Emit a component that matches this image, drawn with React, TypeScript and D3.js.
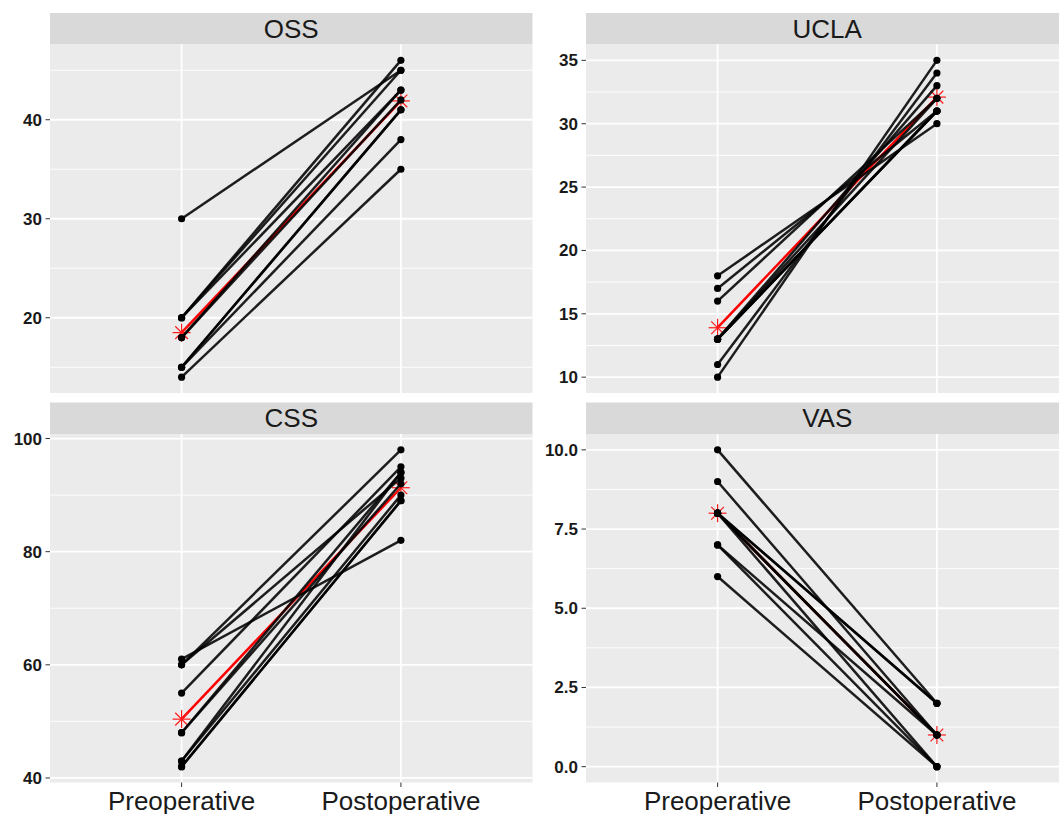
import React from 'react';
import * as d3 from 'd3';

// ---- data ----
const groups = ['Preoperative', 'Postoperative'];
const panelNames = ['OSS', 'UCLA', 'CSS', 'VAS'];

const ossPre = [30, 20, 20, 20, 18, 18, 15, 15, 15, 14];
const ossPost = [45, 46, 45, 43, 43, 42, 41, 41, 38, 35];
const uclaPre = [18, 17, 16, 13, 13, 13, 13, 13, 11, 10];
const uclaPost = [30, 31, 32, 33, 31, 32, 31, 31, 34, 35];
const cssPre = [61, 60, 55, 48, 48, 43, 43, 42, 42, 60];
const cssPost = [82, 98, 95, 94, 92, 94, 90, 89, 89, 93];
const vasPre = [10, 9, 8, 8, 8, 8, 7, 7, 6, 8];
const vasPost = [2, 1, 2, 1, 0, 1, 1, 0, 0, 2];

const meanPre = [18.5, 13.9, 50.4, 8.0];
const meanPost = [41.9, 32.1, 91.3, 1.0];

const ossTicks = [20, 30, 40];
const uclaTicks = [10, 15, 20, 25, 30, 35];
const cssTicks = [40, 60, 80, 100];
const vasTicks = [0, 2.5, 5, 7.5, 10];
const vasTickLabels = ['0.0', '2.5', '5.0', '7.5', '10.0'];

const preData = [ossPre, uclaPre, cssPre, vasPre];
const postData = [ossPost, uclaPost, cssPost, vasPost];
const tickData = [ossTicks, uclaTicks, cssTicks, vasTicks];
const tickLabelData = [ossTicks.map(String), uclaTicks.map(String), cssTicks.map(String), vasTickLabels];

// ---- layout ----
const W = 1059;
const H = 814;
const colX = [50, 586];
const panelW = 482.5;
const stripTop = [13, 402.5];
const stripH = 31.5;
const plotTop = [44.5, 434];
const plotH = 348.5;

function Star({ x, y, r }: { x: number; y: number; r: number }) {
  const d = r * Math.SQRT1_2;
  return (
    <g stroke="#ff1a1a" strokeWidth={1.2}>
      <line x1={x - r} y1={y} x2={x + r} y2={y} />
      <line x1={x} y1={y - r} x2={x} y2={y + r} />
      <line x1={x - d} y1={y - d} x2={x + d} y2={y + d} />
      <line x1={x - d} y1={y + d} x2={x + d} y2={y - d} />
    </g>
  );
}

function Panel({ idx }: { idx: number }) {
  const col = idx % 2;
  const row = Math.floor(idx / 2);
  const x0 = colX[col];
  const top = plotTop[row];
  const bottom = top + plotH;
  const pre = preData[idx];
  const post = postData[idx];
  const all = pre.concat(post);
  const mn = d3.min(all) as number;
  const mx = d3.max(all) as number;
  const pad = (mx - mn) * 0.05;
  const y = d3.scaleLinear().domain([mn - pad, mx + pad]).range([bottom, top]);
  const x = d3.scalePoint<string>().domain(groups).range([x0, x0 + panelW]).padding(0.6);
  const ticks = tickData[idx];
  const step = ticks[1] - ticks[0];
  const minor: number[] = [];
  for (let v = ticks[0] - step / 2; v <= mx + pad; v += step) {
    if (v >= mn - pad) minor.push(v);
  }
  const line = d3.line<[number, number]>().x((d) => d[0]).y((d) => d[1]);
  const xPre = x(groups[0]) as number;
  const xPost = x(groups[1]) as number;
  return (
    <g>
      {/* strip */}
      <rect x={x0} y={stripTop[row]} width={panelW} height={stripH} fill="#d9d9d9" />
      <text
        x={x0 + panelW / 2}
        y={stripTop[row] + stripH / 2 + 9}
        textAnchor="middle"
        fontFamily="'Liberation Sans', Arial, sans-serif"
        fontSize={26}
        fill="#1a1a1a"
      >
        {panelNames[idx]}
      </text>
      {/* panel */}
      <rect x={x0} y={top} width={panelW} height={plotH} fill="#ebebeb" />
      {minor.map((v) => (
        <line key={'m' + v} x1={x0} x2={x0 + panelW} y1={y(v)} y2={y(v)} stroke="#fff" strokeWidth={0.9} />
      ))}
      {ticks.map((v) => (
        <line key={'t' + v} x1={x0} x2={x0 + panelW} y1={y(v)} y2={y(v)} stroke="#fff" strokeWidth={1.8} />
      ))}
      {groups.map((g) => (
        <line key={g} x1={x(g)} x2={x(g)} y1={top} y2={bottom} stroke="#fff" strokeWidth={1.8} />
      ))}
      {/* mean line */}
      <path
        d={line([[xPre, y(meanPre[idx])], [xPost, y(meanPost[idx])]]) as string}
        stroke="#ff0000"
        strokeWidth={2.5}
        fill="none"
      />
      <Star x={xPre} y={y(meanPre[idx])} r={9} />
      <Star x={xPost} y={y(meanPost[idx])} r={9} />
      {/* subjects */}
      {pre.map((v, i) => (
        <path
          key={'l' + i}
          d={line([[xPre, y(v)], [xPost, y(post[i])]]) as string}
          stroke="#000"
          strokeWidth={2.5}
          strokeOpacity={0.88}
          fill="none"
        />
      ))}
      {pre.map((v, i) => (
        <g key={'p' + i}>
          <circle cx={xPre} cy={y(v)} r={3.6} fill="#000" />
          <circle cx={xPost} cy={y(post[i])} r={3.6} fill="#000" />
        </g>
      ))}
      {/* y axis */}
      {ticks.map((v, i) => (
        <g key={'ya' + v}>
          <line x1={x0 - 4.5} x2={x0} y1={y(v)} y2={y(v)} stroke="#333" strokeWidth={1} />
          <text
            x={x0 - 8}
            y={y(v) + 6}
            textAnchor="end"
            fontFamily="'Liberation Sans Narrow', 'Liberation Sans', Arial, sans-serif"
            fontWeight="bold"
            fontSize={17}
            fill="#1a1a1a"
          >
            {tickLabelData[idx][i]}
          </text>
        </g>
      ))}
      {/* x axis on bottom row */}
      {row === 1 &&
        groups.map((g) => (
          <g key={'xa' + g}>
            <line x1={x(g)} x2={x(g)} y1={bottom} y2={bottom + 4.5} stroke="#333" strokeWidth={1} />
            <text
              x={x(g)}
              y={bottom + 27}
              textAnchor="middle"
              fontFamily="'Liberation Sans', Arial, sans-serif"
              fontSize={26}
              fill="#1a1a1a"
            >
              {g}
            </text>
          </g>
        ))}
    </g>
  );
}

export default function App() {
  return (
    <svg
      width={W}
      height={H}
      style={{ position: 'absolute', left: 0, top: 0, background: '#fff' }}
    >
      <rect width={W} height={H} fill="#fff" />
      {[0, 1, 2, 3].map((i) => (
        <Panel key={i} idx={i} />
      ))}
    </svg>
  );
}
